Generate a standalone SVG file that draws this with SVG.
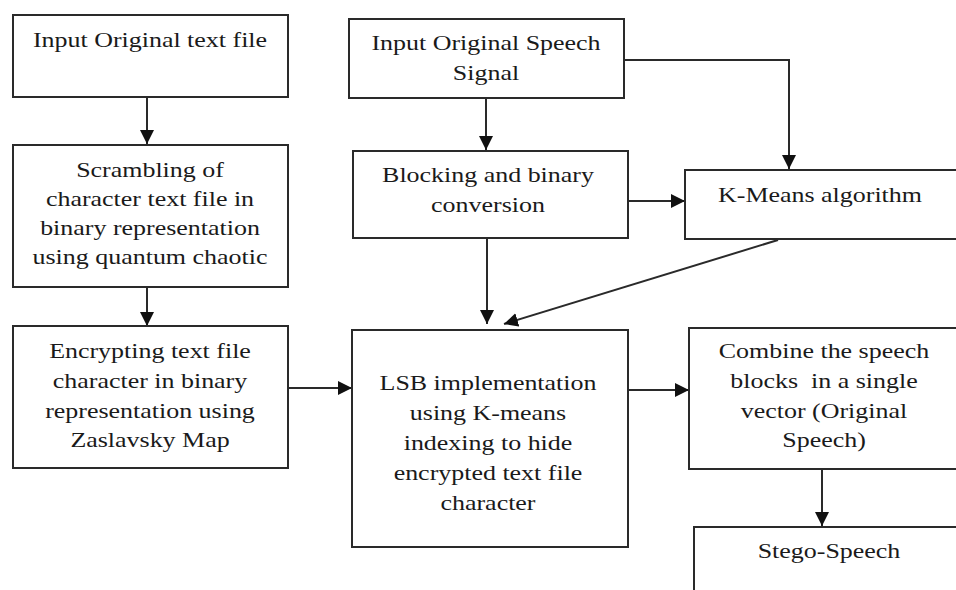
<svg xmlns="http://www.w3.org/2000/svg" width="956" height="590" viewBox="0 0 956 590">
  <style>
    .box { fill: #ffffff; stroke: #2a2a2a; stroke-width: 2; }
    .t { font-size: 22px; fill: #1a1a1a; text-anchor: middle; }
    .wire { fill: none; stroke: #2a2a2a; stroke-width: 2; marker-end: url(#head); }
  </style>
  <defs>
    <marker id="head" markerUnits="userSpaceOnUse" markerWidth="14" markerHeight="14" refX="14" refY="7" orient="auto">
      <path d="M0,0 L14,7 L0,14 z" fill="#111111"/>
    </marker>
  </defs>
  <rect width="956" height="590" fill="#ffffff"/>

  <!-- connectors -->
  <g id="connectors">
    <path class="wire" d="M147,97 V144"/>
    <path class="wire" d="M147,287 V326"/>
    <path class="wire" d="M288,388 H352"/>
    <path class="wire" d="M486,98 V150"/>
    <path class="wire" d="M624,60 H789 V169"/>
    <path class="wire" d="M628,201 H685"/>
    <path class="wire" d="M487,238 V324"/>
    <path class="wire" d="M778,240 L504,324"/>
    <path class="wire" d="M628,390 H689"/>
    <path class="wire" d="M822,469 V526"/>
  </g>

  <!-- labels are set in a serif face, widened horizontally -->
  <g font-family="Liberation Serif, serif">
    <!-- text-file branch -->
    <g id="input-text">
      <rect class="box" x="13" y="15" width="275" height="82"/>
      <text class="t" transform="translate(150,0) scale(1.18,1)"><tspan x="0" y="47">Input Original text file</tspan></text>
    </g>
    <g id="scrambling">
      <rect class="box" x="13" y="145" width="275" height="142"/>
      <text class="t" transform="translate(150,0) scale(1.18,1)"><tspan x="0" y="177">Scrambling of</tspan><tspan x="0" y="206">character text file in</tspan><tspan x="0" y="235">binary representation</tspan><tspan x="0" y="264">using quantum chaotic</tspan></text>
    </g>
    <g id="encrypting">
      <rect class="box" x="13" y="326" width="275" height="142"/>
      <text class="t" transform="translate(150,0) scale(1.18,1)"><tspan x="0" y="358">Encrypting text file</tspan><tspan x="0" y="388">character in binary</tspan><tspan x="0" y="418">representation using</tspan><tspan x="0" y="447">Zaslavsky Map</tspan></text>
    </g>

    <!-- speech branch -->
    <g id="input-speech">
      <rect class="box" x="349" y="19" width="275" height="79"/>
      <text class="t" transform="translate(486,0) scale(1.18,1)"><tspan x="0" y="50">Input Original Speech</tspan><tspan x="0" y="80">Signal</tspan></text>
    </g>
    <g id="blocking">
      <rect class="box" x="353" y="151" width="275" height="87"/>
      <text class="t" transform="translate(488,0) scale(1.18,1)"><tspan x="0" y="182">Blocking and binary</tspan><tspan x="0" y="212">conversion</tspan></text>
    </g>
    <g id="kmeans">
      <rect class="box" x="685" y="170" width="280" height="69"/>
      <text class="t" transform="translate(820,0) scale(1.18,1)"><tspan x="0" y="202">K-Means algorithm</tspan></text>
    </g>
    <g id="lsb">
      <rect class="box" x="352" y="330" width="276" height="217"/>
      <text class="t" transform="translate(488,0) scale(1.18,1)"><tspan x="0" y="390">LSB implementation</tspan><tspan x="0" y="420">using K-means</tspan><tspan x="0" y="450">indexing to hide</tspan><tspan x="0" y="480">encrypted text file</tspan><tspan x="0" y="510">character</tspan></text>
    </g>
    <g id="combine">
      <rect class="box" x="689" y="328" width="280" height="141"/>
      <text class="t" transform="translate(824,0) scale(1.18,1)"><tspan x="0" y="358">Combine the speech</tspan><tspan x="0" y="388">blocks&#160; in a single</tspan><tspan x="0" y="418">vector (Original</tspan><tspan x="0" y="447">Speech)</tspan></text>
    </g>
    <g id="stego">
      <rect class="box" x="694" y="527" width="280" height="80"/>
      <text class="t" transform="translate(829,0) scale(1.18,1)"><tspan x="0" y="558">Stego-Speech</tspan></text>
    </g>
  </g>
</svg>
